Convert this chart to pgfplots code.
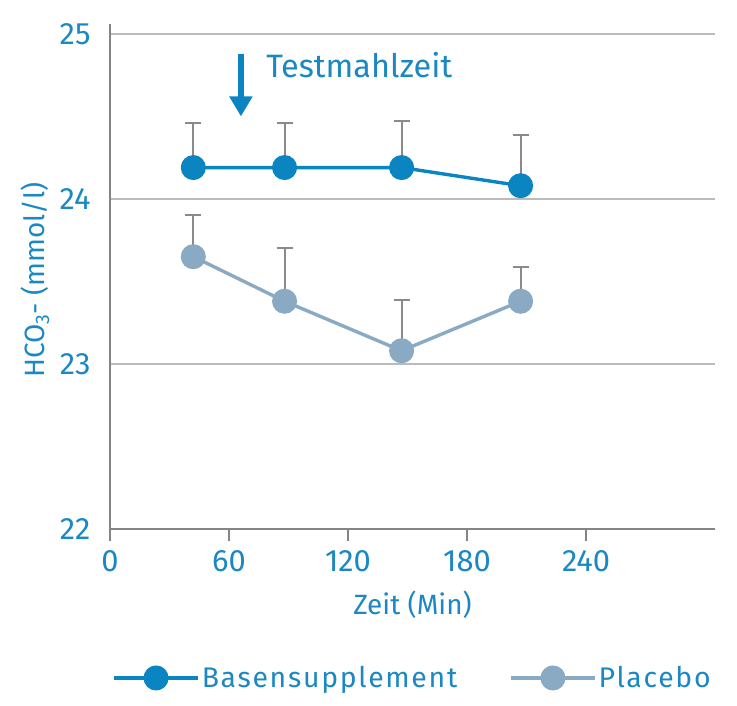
\documentclass[border=0pt]{standalone}
\usepackage{pgfplots}
\pgfplotsset{compat=1.18}
\usepackage{fontspec}
\setmainfont{Fira Sans}
\usetikzlibrary{arrows.meta}
\definecolor{cblue}{HTML}{0A85C2}
\definecolor{cplac}{HTML}{89AAC2}
\definecolor{ctext}{HTML}{1B88C3}
\definecolor{cerr}{HTML}{8A8A8A}
\definecolor{cgrid}{HTML}{BBBBBB}
\definecolor{caxis}{HTML}{858585}
\begin{document}
\begin{tikzpicture}
\begin{axis}[
  scale only axis,
  width=605bp, height=505bp,
  xmin=0, xmax=305, ymin=22, ymax=25.06,
  axis x line=bottom, axis y line=left,
  axis line style={-, draw=caxis, line width=2.8bp},
  xtick={0,60,120,180,240},
  ytick={22,23,24,25},
  ymajorgrids,
  grid style={cgrid, line width=1.4bp},
  tick align=outside,
  xtick style={draw=caxis, line width=1.6bp},
  ytick style={draw=none},
  major tick length=12bp,
  /pgf/number format/assume math mode=true,
  tick label style={font=\fontsize{31}{36}\selectfont, text=ctext},
  xticklabel style={yshift=-6bp},
  yticklabel style={xshift=-4bp},
  label style={font=\fontsize{28}{33}\selectfont, text=ctext},
  xlabel={Zeit (Min)},
  xlabel style={at={(axis description cs:0.5,0)}, anchor=center, yshift=-76bp},
  ylabel={HCO\textsubscript{3}- (mmol/l)},
  ylabel style={at={(axis description cs:-0.124,0.493)}, anchor=center},
  legend style={at={(0.5,-0.295)}, anchor=center, draw=none, fill=none,
    font=\fontsize{28.5}{33}\selectfont\addfontfeature{LetterSpace=6}, text=ctext,
    legend columns=2,
    /tikz/every even column/.append style={column sep=50bp}},
  legend cell align=left,
  legend image code/.code={\draw[#1, mark repeat=2, mark phase=2] plot coordinates {(-6bp,0bp) (36bp,0bp) (78bp,0bp)};},
]
% error bars drawn first, behind the lines and markers
\addplot[draw=none, mark=none, forget plot,
  error bars/.cd, y dir=plus, y explicit, error mark=-, error mark options={draw=cerr, line width=2bp, mark size=8bp, rotate=90},
  error bar style={draw=cerr, line width=2bp}]
  coordinates {(42,24.19) +- (0,0.27) (88,24.19) +- (0,0.27) (147,24.19) +- (0,0.28) (207,24.08) +- (0,0.31)};
\addplot[draw=none, mark=none, forget plot,
  error bars/.cd, y dir=plus, y explicit, error mark=-, error mark options={draw=cerr, line width=2bp, mark size=8bp, rotate=90},
  error bar style={draw=cerr, line width=2bp}]
  coordinates {(42,23.65) +- (0,0.25) (88,23.38) +- (0,0.32) (147,23.08) +- (0,0.31) (207,23.38) +- (0,0.21)};
\addplot[cblue, line width=3.4bp, mark=*, mark size=10.8bp, mark options={fill=cblue, draw=none}]
  coordinates {(42,24.19) (88,24.19) (147,24.19) (207,24.08)};
\addlegendentry{Basensupplement}
\addplot[cplac, line width=3.4bp, mark=*, mark size=10.8bp, mark options={fill=cplac, draw=none}]
  coordinates {(42,23.65) (88,23.38) (147,23.08) (207,23.38)};
\addlegendentry{Placebo}
\draw[cblue, line width=6bp, -{Triangle[width=22bp,length=20bp]}] (axis cs:66,24.88) -- (axis cs:66,24.50);
\node[anchor=west, text=ctext, font=\fontsize{32.5}{38}\selectfont] at (axis cs:77,24.81) {Testmahlzeit};
\end{axis}
\path (current axis.south west) +(-110bp,-177bp);
\path (current axis.north east) +(22bp,24bp);
\end{tikzpicture}
\end{document}
